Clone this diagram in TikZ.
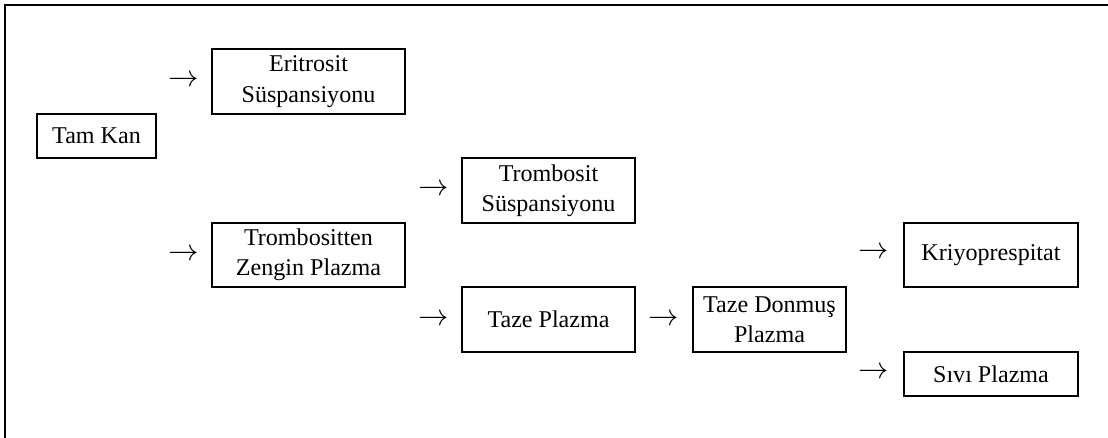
\documentclass[tikz,border=0pt]{standalone}
\usepackage{fontspec}
\setmainfont{Liberation Serif}
\usepackage{tikz}

\tikzset{
  box/.style={draw,rectangle,line width=1.1pt,align=center,inner sep=0pt,
    font=\fontsize{13.7}{17.3}\selectfont},
  arr/.style={inner sep=0pt,font=\fontsize{17.28}{20}\selectfont},
  frame/.style={line width=1.7pt}
}

\begin{document}
\begin{tikzpicture}
\useasboundingbox (0,0) rectangle (22.16,-8.74);
\draw[frame] (0.1,-8.9) -- (0.1,-0.1) -- (22.3,-0.1);
\node[box,minimum width=2.38cm,minimum height=0.88cm] (tamkan) at (1.93,-2.72) {Tam Kan};
\node[box,minimum width=3.86cm,minimum height=1.30cm] (eritrosit) at (6.17,-1.63) {Eritrosit\\Süspansiyonu};
\node[box,minimum width=3.86cm,minimum height=1.28cm] (tzplazma) at (6.17,-5.10) {Trombositten\\Zengin Plazma};
\node[box,minimum width=3.46cm,minimum height=1.30cm] (trsusp) at (10.97,-3.81) {Trombosit\\Süspansiyonu};
\node[box,minimum width=3.46cm,minimum height=1.30cm] (taze) at (10.97,-6.39) {Taze Plazma};
\node[box,minimum width=3.06cm,minimum height=1.30cm] (tdp) at (15.39,-6.39) {Taze Donmuş\\Plazma};
\node[box,minimum width=3.48cm,minimum height=1.28cm] (kriyo) at (19.82,-5.10) {Kriyoprespitat};
\node[box,minimum width=3.48cm,minimum height=0.88cm] (sivi) at (19.82,-7.48) {Sıvı Plazma};
\node[arr] (a1) at (3.67,-1.62) {$\rightarrow$};
\node[arr] (a2) at (3.67,-5.10) {$\rightarrow$};
\node[arr] (a3) at (8.67,-3.80) {$\rightarrow$};
\node[arr] (a4) at (8.67,-6.40) {$\rightarrow$};
\node[arr] (a5) at (13.27,-6.40) {$\rightarrow$};
\node[arr] (a6) at (17.47,-5.06) {$\rightarrow$};
\node[arr] (a7) at (17.47,-7.46) {$\rightarrow$};
\end{tikzpicture}
\end{document}
